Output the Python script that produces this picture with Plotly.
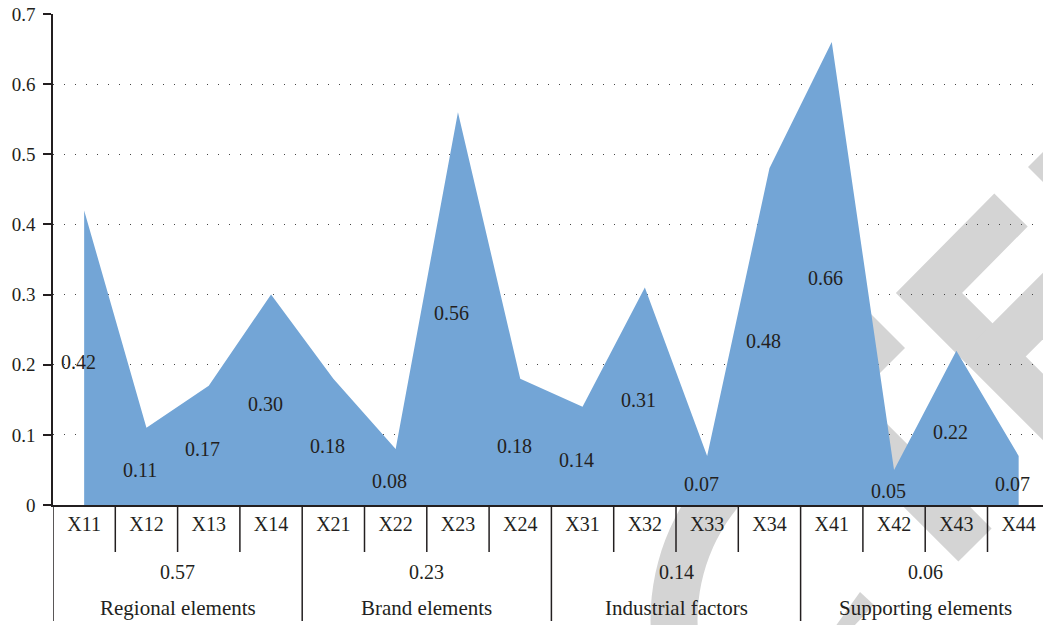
import math
import plotly.graph_objects as go

# ---- data ----
categories = ["X11", "X12", "X13", "X14",
              "X21", "X22", "X23", "X24",
              "X31", "X32", "X33", "X34",
              "X41", "X42", "X43", "X44"]
weights = [0.42, 0.11, 0.17, 0.30,
           0.18, 0.08, 0.56, 0.18,
           0.14, 0.31, 0.07, 0.48,
           0.66, 0.05, 0.22, 0.07]
group_names = ["Regional elements", "Brand elements",
               "Industrial factors", "Supporting elements"]
group_weights = [0.57, 0.23, 0.14, 0.06]
group_sizes = [4, 4, 4, 4]
y_tick_vals = [0, 0.1, 0.2, 0.3, 0.4, 0.5, 0.6, 0.7]
y_tick_text = ["0", "0.1", "0.2", "0.3", "0.4", "0.5", "0.6", "0.7"]

# ---- layout constants ----
W, H = 1043, 625
ML, MR, MT, MB = 53, 0, 14, 120
PLOT_W = W - ML - MR
PLOT_H = H - MT - MB
CAT_W = 62.3
X_MIN = -0.5
X_MAX = X_MIN + PLOT_W / CAT_W

FONT = "Liberation Serif, Times New Roman, serif"
TXT = "#231f20"
FILL = "#73a5d6"
WM = "#d4d4d4"
AX = "#231f20"
idx = list(range(len(categories)))

fig = go.Figure()

# filled area
fig.add_trace(go.Scatter(
    x=idx, y=weights, mode="lines", fill="tozeroy",
    fillcolor=FILL, line=dict(color=FILL, width=0),
    hoverinfo="skip", showlegend=False,
))


# ---- background logo (pixel space -> paper space) ----
def px(x, y):
    return (x - ML) / PLOT_W, (MT + PLOT_H - y) / PLOT_H


def path_from(points, close=False):
    pts = [px(x, y) for x, y in points]
    d = "M " + " L ".join(f"{a:.5f},{b:.5f}" for a, b in pts)
    return d + (" Z" if close else "")


shapes = []
band = 47
# ring
cx, cy, r = 875, 620, 201
arc = [(cx + r * math.cos(math.radians(a)), cy - r * math.sin(math.radians(a)))
       for a in range(210, 108, -3)]
shapes.append(dict(type="path", path=path_from(arc), xref="paper", yref="paper",
                   line=dict(color=WM, width=band), layer="between"))
# chevron
shapes.append(dict(type="path",
                   path=path_from([(1011, 210), (929, 293), (1110, 474)]),
                   xref="paper", yref="paper",
                   line=dict(color=WM, width=band), layer="between"))
# bars
for seg in ([(992, 357), (1100, 249)], [(850, 420), (975, 545)]):
    shapes.append(dict(type="path", path=path_from(seg), xref="paper", yref="paper",
                       line=dict(color=WM, width=band), layer="between"))
# filled pieces
for poly in ([(905, 348), (845, 288), (845, 408)],
             [(1028, 167), (1070, 125), (1070, 209)],
             [(860, 592), (874, 605), (853, 627), (835, 627)]):
    shapes.append(dict(type="path", path=path_from(poly, close=True),
                       xref="paper", yref="paper", fillcolor=WM,
                       line=dict(width=0), layer="between"))

# ---- category axis dividers ----
row1 = -47 / PLOT_H
row_all = -116 / PLOT_H
shapes.append(dict(type="line", xref="x", yref="paper", x0=X_MIN, x1=X_MIN,
                   y0=0, y1=row_all, line=dict(color=AX, width=1.5), layer="above"))
bounds = []
start = 0
for n in group_sizes:
    bounds.append((start, start + n))
    start += n
for g0, g1 in bounds:
    for k in range(g0 + 1, g1):
        shapes.append(dict(type="line", xref="x", yref="paper",
                           x0=k - 0.5, x1=k - 0.5, y0=0, y1=row1,
                           line=dict(color=AX, width=1.5), layer="above"))
    if g1 < len(categories):
        shapes.append(dict(type="line", xref="x", yref="paper",
                           x0=g1 - 0.5, x1=g1 - 0.5, y0=0, y1=row_all,
                           line=dict(color=AX, width=1.5), layer="above"))

annotations = []
# value labels, centred at half height of each point
for i, v in zip(idx, weights):
    annotations.append(dict(x=i, y=v / 2, xref="x", yref="y",
                            text=f"{v:.2f}", showarrow=False,
                            xanchor="center", yanchor="middle",
                            xshift=-6, yshift=-4,
                            font=dict(family=FONT, size=20, color=TXT)))

for (g0, g1), gw, gn in zip(bounds, group_weights, group_names):
    centre = (g0 + g1 - 1) / 2
    annotations.append(dict(x=centre, y=0, xref="x", yref="paper",
                            text=f"{gw:.2f}", showarrow=False,
                            yanchor="middle", yshift=-67,
                            font=dict(family=FONT, size=20, color=TXT)))
    annotations.append(dict(x=centre, y=0, xref="x", yref="paper",
                            text=gn, showarrow=False,
                            yanchor="middle", yshift=-103,
                            font=dict(family=FONT, size=21, color=TXT)))

fig.update_layout(
    width=W, height=H,
    margin=dict(l=ML, r=MR, t=MT, b=MB, pad=0),
    paper_bgcolor="white", plot_bgcolor="white",
    shapes=shapes, annotations=annotations,
    showlegend=False,
)
fig.update_xaxes(
    range=[X_MIN, X_MAX], tickmode="array", tickvals=idx, ticktext=categories,
    ticks="", showgrid=False, zeroline=False,
    showline=True, linecolor=AX, linewidth=1.5,
    tickfont=dict(family=FONT, size=20, color=TXT),
    ticklabelstandoff=0,
)
fig.update_yaxes(
    range=[0, 0.7], tickmode="array", tickvals=y_tick_vals, ticktext=y_tick_text,
    ticks="outside", ticklen=8, tickwidth=1.5, tickcolor=AX,
    showline=True, linecolor=AX, linewidth=1.5, zeroline=False,
    showgrid=True, gridcolor="#444444", gridwidth=1, griddash="1px,10px",
    tickfont=dict(family=FONT, size=19, color=TXT),
    ticklabelstandoff=4,
)

fig.write_html("out.html")
